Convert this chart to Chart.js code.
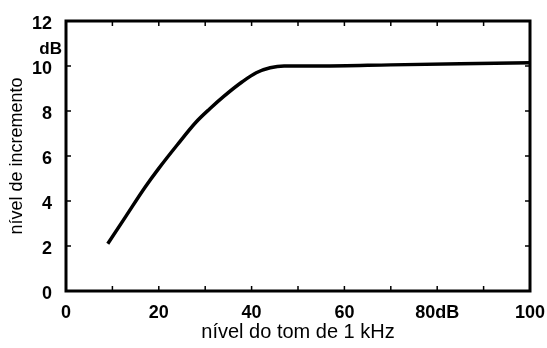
<!DOCTYPE html>
<html>
<head>
<meta charset="utf-8">
<script src="https://cdn.jsdelivr.net/npm/chart.js@4"></script>
<style>
  html, body { margin: 0; padding: 0; background: #fff; }
  #wrap { width: 547px; height: 348px; }
</style>
</head>
<body>
<div id="wrap"><canvas id="chart-nivel"></canvas></div>
<script>
// dados
const nivelTom = [9, 13, 17, 20, 24, 28, 31, 34, 38, 41, 44, 47, 55, 70, 85, 100];
const incremento = [2.1, 3.35, 4.6, 5.45, 6.5, 7.5, 8.1, 8.65, 9.3, 9.7, 9.92, 10.0, 10.0, 10.05, 10.1, 10.15];
const xTicks = [0, 20, 40, 60, 80, 100];
const yTicks = [0, 2, 4, 6, 8, 10, 12];

const fontTick = { family: "'Liberation Sans', Arial, sans-serif", size: 18, weight: 'bold' };

// moldura + marcas internas
const moldura = {
    id: 'moldura',
    afterDraw(chart) {
        const { ctx, chartArea: a, scales } = chart;
        ctx.save();
        ctx.strokeStyle = '#000';
        ctx.lineWidth = 3;
        ctx.strokeRect(a.left, a.top, a.right - a.left, a.bottom - a.top);
        ctx.lineWidth = 1.5;
        ctx.beginPath();
        for (let v = 10; v < 100; v += 10) {
            const px = scales.x.getPixelForValue(v);
            ctx.moveTo(px, a.bottom); ctx.lineTo(px, a.bottom - 5);
            ctx.moveTo(px, a.top); ctx.lineTo(px, a.top + 5);
        }
        for (let v = 2; v < 12; v += 2) {
            const py = scales.y.getPixelForValue(v);
            ctx.moveTo(a.left, py); ctx.lineTo(a.left + 5, py);
            ctx.moveTo(a.right, py); ctx.lineTo(a.right - 5, py);
        }
        ctx.stroke();
        // unidade "dB" abaixo do 12
        ctx.fillStyle = '#000';
        ctx.font = 'bold 17px "Liberation Sans", Arial, sans-serif';
        ctx.textAlign = 'right';
        ctx.textBaseline = 'middle';
        ctx.fillText('dB', a.left - 4, scales.y.getPixelForValue(10.75));
        ctx.restore();
    }
};

new Chart(document.getElementById('chart-nivel'), {
    type: 'scatter',
    data: {
        datasets: [{
            data: nivelTom.map((x, i) => ({ x: x, y: incremento[i] })),
            showLine: true,
            borderColor: '#000',
            borderWidth: 3.5,
            pointRadius: 0,
            cubicInterpolationMode: 'monotone'
        }]
    },
    options: {
        responsive: true,
        maintainAspectRatio: false,
        animation: false,
        layout: { padding: { top: 21, right: 17, left: 0, bottom: 0 } },
        plugins: { legend: { display: false }, tooltip: { enabled: false } },
        scales: {
            x: {
                type: 'linear',
                min: 0, max: 100,
                afterBuildTicks: s => { s.ticks = xTicks.map(v => ({ value: v })); },
                afterFit: s => { s.height = 57; s.paddingLeft = 0; s.paddingRight = 0; },
                grid: { display: false },
                border: { display: false },
                ticks: {
                    color: '#000', font: fontTick, padding: 3,
                    callback: v => (v === 80 ? '80dB' : String(v))
                },
                title: {
                    display: true, text: 'nível do tom de 1 kHz', color: '#000',
                    font: { family: "'Liberation Sans', Arial, sans-serif", size: 20 },
                    padding: { top: 0, bottom: 4 }
                }
            },
            y: {
                min: 0, max: 12,
                afterBuildTicks: s => { s.ticks = yTicks.map(v => ({ value: v })); },
                afterFit: s => { s.width = 66; s.paddingTop = 0; s.paddingBottom = 0; },
                grid: { display: false },
                border: { display: false },
                ticks: { color: '#000', font: fontTick, padding: 6, labelOffset: 3 },
                title: {
                    display: true, text: 'nível de incremento', color: '#000',
                    font: { family: "'Liberation Sans', Arial, sans-serif", size: 18 },
                    padding: { top: 6, bottom: 0 }
                }
            }
        }
    },
    plugins: [moldura]
});
</script>
</body>
</html>
